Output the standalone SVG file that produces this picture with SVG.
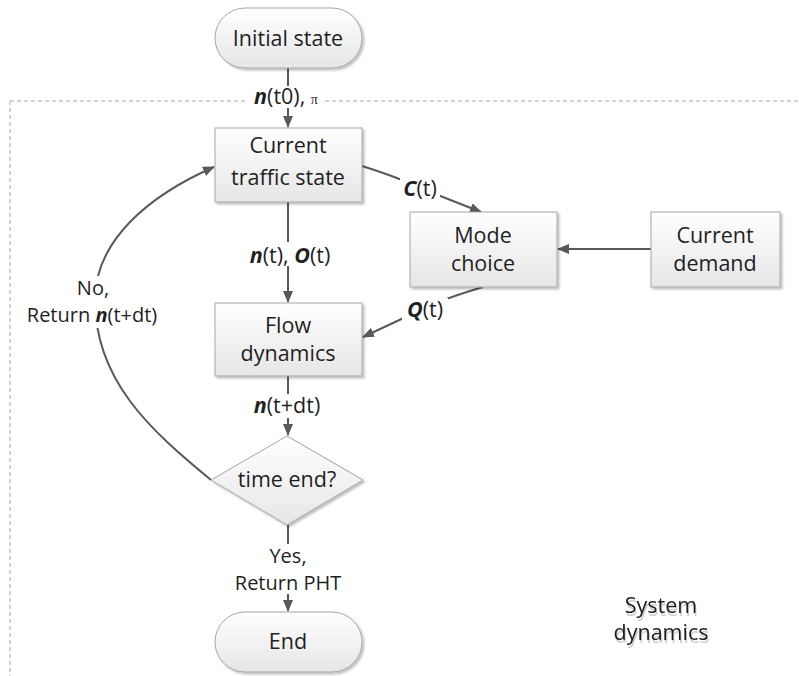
<svg xmlns="http://www.w3.org/2000/svg" width="799" height="676" viewBox="0 0 799 676">
<style>
.node{fill:url(#g);stroke:#a6a6a6;stroke-width:1;filter:url(#sh)}
.t{font-family:"Open Sans","Liberation Sans",sans-serif;font-size:21.5px;fill:#1f1f1f;text-anchor:middle}
.s{font-size:20px}
.c{fill:none;stroke:#595959;stroke-width:2}
.b{font-weight:bold;font-style:italic}
.bg{fill:#fff}
</style>
<defs>
<linearGradient id="g" x1="0" y1="0" x2="0" y2="1"><stop offset="0" stop-color="#ffffff"/><stop offset="1" stop-color="#e6e6e6"/></linearGradient>
<filter id="sh" x="-10%" y="-10%" width="130%" height="130%"><feDropShadow dx="2" dy="2" stdDeviation="1" flood-color="#000" flood-opacity="0.25"/></filter>
<filter id="tsh" x="-10%" y="-10%" width="130%" height="150%"><feDropShadow dx="1" dy="3" stdDeviation="0.6" flood-color="#000" flood-opacity="0.2"/></filter>
<marker id="a" markerWidth="12" markerHeight="10" refX="11" refY="5" orient="auto" markerUnits="userSpaceOnUse"><path d="M0,0 L12,5 L0,10 Z" fill="#595959"/></marker>
</defs>
<path d="M10,101 H799 M10,101 V676" fill="none" stroke="#a6a6a6" stroke-width="1" stroke-dasharray="4,3"/>
<g id="connectors">
<path class="c" d="M288,68 V127" marker-end="url(#a)"/>
<path class="c" d="M288,202 V302" marker-end="url(#a)"/>
<path class="c" d="M288,376 V435" marker-end="url(#a)"/>
<path class="c" d="M288,525 V611" marker-end="url(#a)"/>
<path class="c" d="M362,166 Q400,178 420,188 L481,212" marker-end="url(#a)"/>
<path class="c" d="M651,249 H558" marker-end="url(#a)"/>
<path class="c" d="M483,287 Q440,300 425,308 L363,337" marker-end="url(#a)"/>
<path class="c" d="M211,480 C150,430 95,380 95,300 C95,240 150,195 214,167" marker-end="url(#a)"/>
<rect class="bg" x="248" y="86" width="76" height="22"/>
<text class="t" x="286" y="104"><tspan class="b">n</tspan>(t0), <tspan font-family="Liberation Serif,serif" font-size="14">π</tspan></text>
<rect class="bg" x="400" y="178" width="40" height="21"/>
<text class="t" x="420" y="196"><tspan class="b">C</tspan>(t)</text>
<rect class="bg" x="243" y="242" width="94" height="24"/>
<text class="t" x="290" y="263"><tspan class="b">n</tspan>(t), <tspan class="b">O</tspan>(t)</text>
<rect class="bg" x="402" y="298" width="46" height="22"/>
<text class="t" x="425" y="317"><tspan class="b">Q</tspan>(t)</text>
<rect class="bg" x="248" y="394" width="78" height="24"/>
<text class="t" x="287" y="413"><tspan class="b">n</tspan>(t+dt)</text>
<rect class="bg" x="234" y="544" width="108" height="50"/>
<text class="t s" x="288" y="563">Yes,</text>
<text class="t s" x="288" y="590">Return PHT</text>
<rect class="bg" x="24" y="276" width="138" height="52"/>
<text class="t s" x="93" y="295">No,</text>
<text class="t s" x="92" y="322">Return <tspan class="b">n</tspan>(t+dt)</text>
</g>
<g id="initial">
<rect class="node" x="215" y="8" width="147" height="60" rx="30"/>
<text class="t" x="288" y="46">Initial state</text>
</g>
<g id="current">
<rect class="node" x="215" y="128" width="147" height="74"/>
<text class="t" x="288" y="153">Current</text>
<text class="t" x="288" y="185">traffic state</text>
</g>
<g id="mode">
<rect class="node" x="410" y="212" width="147" height="75"/>
<text class="t" x="483" y="243">Mode</text>
<text class="t" x="483" y="271">choice</text>
</g>
<g id="demand">
<rect class="node" x="651" y="212" width="129" height="75"/>
<text class="t" x="715" y="243">Current</text>
<text class="t" x="715" y="271">demand</text>
</g>
<g id="flow">
<rect class="node" x="215" y="303" width="147" height="73"/>
<text class="t" x="288" y="333">Flow</text>
<text class="t" x="288" y="361">dynamics</text>
</g>
<g id="decision">
<path class="node" d="M287,436 L363,480 L287,525 L211,480 Z"/>
<text class="t" x="287" y="487">time end?</text>
</g>
<g id="end">
<rect class="node" x="215" y="612" width="147" height="60" rx="30"/>
<text class="t" x="288" y="649">End</text>
</g>
<g id="label-system">
<text class="t" x="661" y="613" filter="url(#tsh)">System</text>
<text class="t" x="661" y="640" filter="url(#tsh)">dynamics</text>
</g>
</svg>
